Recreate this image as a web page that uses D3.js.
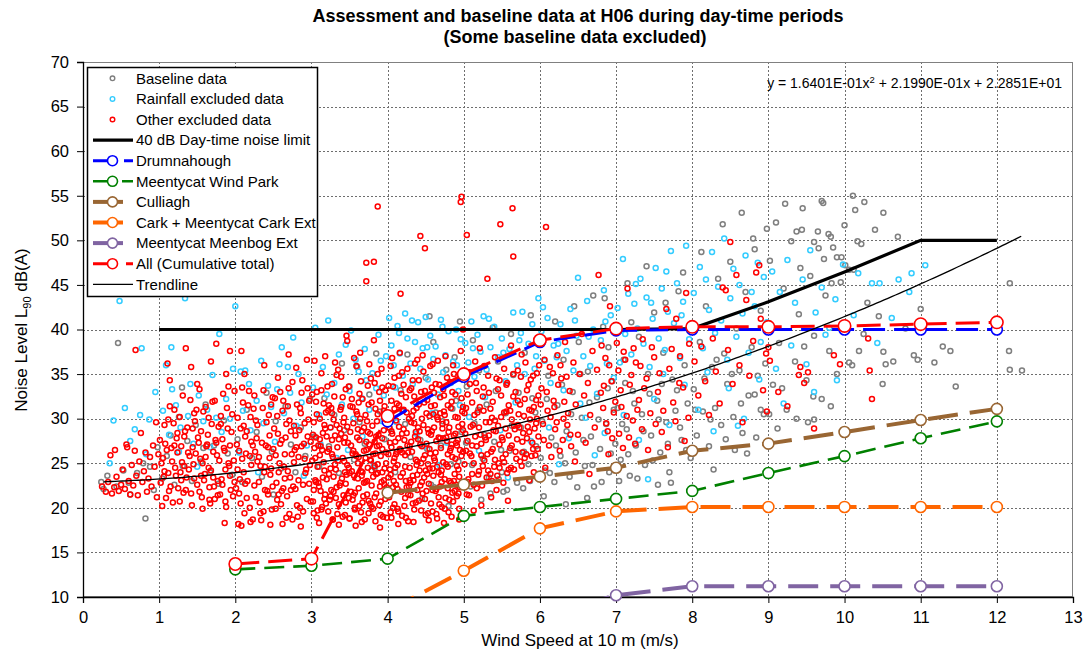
<!DOCTYPE html>
<html>
<head>
<meta charset="utf-8">
<script src="https://cdn.jsdelivr.net/npm/d3@7"></script>
<style>
  body { margin: 0; background: #fff; }
  svg { display: block; }
  text { font-family: "Liberation Sans", Arial, sans-serif; fill: #000; }
</style>
</head>
<body>
<svg id="chart" width="1084" height="659"></svg>
<script>
// ---- Data -------------------------------------------------------------

// Wind speed steps for the predicted turbine noise curves (m/s)
const speedSteps = [2, 3, 4, 5, 6, 7, 8, 9, 10, 11, 12];

// Predicted noise levels, dB(A) (null = no value at that speed)
const drumnahough = [null, null, 29.7, 34.7, 38.6, 39.9, 40.0, 40.0, 40.0, 40.0, 40.0];
const meentycatWindPark = [13.1, 13.5, 14.3, 19.1, 20.1, 21.0, 21.9, 23.9, 25.8, 27.8, 29.7];
const culliagh = [null, null, 21.7, 22.6, 23.5, 24.5, 26.4, 27.2, 28.5, 29.85, 31.1];
const carkMeentycatExt = [null, null, 8.4, 12.95, 17.7, 19.6, 20.1, 20.1, 20.1, 20.1, 20.1];
const meentycatMeenbogExt = [null, null, null, null, 7.7, 10.2, 11.2, 11.2, 11.2, 11.2, 11.2];
const cumulativeTotal = [13.7, 14.3, 30.3, 35.0, 38.8, 40.1, 40.3, 40.3, 40.4, 40.6, 40.8];

// Day-time noise limit
const limitSpeeds = [1, 2, 3, 4, 5, 6, 7, 8, 9, 10, 11, 12];
const limitLevels = [40, 40, 40, 40, 40, 40, 40, 40.1, 43.1, 46.45, 50, 50];

// Polynomial trendline of the baseline data: a2*x^2 + a1*x + a0
const trendCoefficients = [0.16401, 0.21990, 22.851];
const trendSpeedRange = [0.27, 12.35];

// Axis ticks
const xTicks = [0, 1, 2, 3, 4, 5, 6, 7, 8, 9, 10, 11, 12, 13];
const yTicks = [10, 15, 20, 25, 30, 35, 40, 45, 50, 55, 60, 65, 70];

// Measured points [wind speed, L90]
const baselinePoints = [
[0.24,22.9],[0.27,22.1],[0.32,23.6],[0.44,22.4],[0.46,38.5],[0.53,24.2],[0.6,22.8],[0.62,21.5],[0.71,23.9],[0.79,25.0],[0.82,18.8],[0.88,24.6],[0.93,22.0],[0.98,26.8],
[1.04,23.3],[1.1,25.8],[1.15,28.1],[1.2,22.6],[1.26,30.2],[1.31,24.7],[1.37,27.5],[1.43,23.0],[1.48,29.3],[1.55,25.2],[1.61,31.6],[1.67,24.0],[1.72,27.0],[1.78,22.7],[1.85,29.8],[1.9,26.1],[1.96,23.7],[1.3,33.5],[1.58,26.7],
[2.03,27.7],[2.09,22.9],[2.15,31.0],[2.22,25.6],[2.28,28.5],[2.35,23.5],[2.41,32.9],[2.48,26.3],[2.53,29.7],[2.6,24.4],[2.66,31.4],[2.73,27.1],[2.79,24.0],[2.86,29.0],[2.92,25.8],[2.98,32.2],[2.5,21.5],
[3.04,28.0],[3.1,24.6],[3.17,32.3],[3.23,26.9],[3.3,30.4],[3.36,23.9],[3.43,28.7],[3.5,33.6],[3.56,25.4],[3.63,29.6],[3.7,27.2],[3.76,32.7],[3.83,24.5],[3.9,30.8],[3.96,27.7],[3.6,35.8],[3.4,36.2],[3.85,37.3],
[4.03,28.9],[4.1,24.0],[4.17,33.2],[4.23,29.4],[4.3,25.7],[4.37,31.8],[4.43,27.6],[4.5,34.6],[4.57,22.6],[4.63,30.7],[4.7,27.0],[4.77,35.5],[4.83,24.9],[4.9,32.0],[4.97,28.5],[4.26,37.2],[4.6,38.6],[4.88,36.9],[4.45,21.0],[4.8,20.2],[4.55,41.5],[4.95,40.9],
[5.04,33.6],[5.09,22.4],[5.14,29.5],[5.2,35.4],[5.25,25.5],[5.3,31.6],[5.35,21.6],[5.4,27.4],[5.45,36.4],[5.5,24.0],[5.55,30.6],[5.6,26.4],[5.65,34.9],[5.7,22.8],[5.75,29.0],[5.8,37.4],[5.85,24.9],[5.9,32.3],[5.95,26.9],[5.12,38.8],[5.38,40.2],[5.62,39.5],[5.88,41.6],[5.23,20.9],[5.52,21.8],[5.78,22.2],[5.46,23.2],[5.98,23.7],
[6.03,29.7],[6.07,24.2],[6.11,34.8],[6.15,27.9],[6.19,22.9],[6.23,31.5],[6.27,25.8],[6.31,36.6],[6.35,28.6],[6.39,23.5],[6.43,33.0],[6.47,26.2],[6.51,38.6],[6.55,30.1],[6.59,24.7],[6.63,35.3],[6.67,28.0],[6.71,22.4],[6.75,32.4],[6.79,26.6],[6.83,40.3],[6.87,29.4],[6.91,24.0],[6.95,34.2],[6.99,27.2],[6.2,40.9],[6.45,42.6],[6.7,43.8],[6.9,38.0],[6.05,21.3],[6.34,20.4],[6.62,21.1],[6.85,43.5],
[7.02,31.2],[7.06,25.4],[7.1,36.6],[7.14,28.8],[7.18,23.6],[7.22,33.1],[7.26,27.0],[7.3,39.2],[7.34,30.5],[7.38,24.8],[7.42,35.0],[7.46,28.1],[7.5,41.9],[7.54,32.0],[7.58,26.2],[7.62,37.4],[7.66,29.6],[7.7,24.0],[7.74,34.4],[7.78,30.9],[7.82,44.3],[7.86,27.6],[7.9,36.0],[7.94,31.7],[7.98,25.6],[7.15,45.2],[7.4,47.1],[7.65,43.0],[7.88,46.4],[7.55,22.6],[7.96,39.9],[7.2,40.8],
[8.02,33.3],[8.06,28.1],[8.1,38.6],[8.14,30.8],[8.18,42.6],[8.22,26.9],[8.26,35.8],[8.3,31.2],[8.34,45.7],[8.38,29.3],[8.42,37.3],[8.46,33.9],[8.5,47.6],[8.54,30.2],[8.58,40.1],[8.62,35.4],[8.66,28.4],[8.7,44.2],[8.74,32.6],[8.78,38.0],[8.82,49.0],[8.86,34.8],[8.9,42.1],[8.94,30.5],[8.98,51.3],[8.12,48.7],[8.4,51.8],[8.65,53.1],[8.8,50.2],[8.28,24.3],[8.56,26.5],[8.84,27.9],
[9.02,47.7],[9.06,33.8],[9.1,52.0],[9.14,38.5],[9.2,44.6],[9.24,31.0],[9.3,49.9],[9.35,36.4],[9.4,41.7],[9.45,53.6],[9.5,34.3],[9.55,46.0],[9.6,39.3],[9.65,51.0],[9.7,32.2],[9.75,43.8],[9.8,37.6],[9.85,49.2],[9.9,35.0],[9.95,45.3],[9.12,28.9],[9.52,29.6],[9.82,31.4],[9.22,54.1],[9.7,54.4],
[10.11,55.0],[10.26,54.3],[10.51,53.1],[10.4,51.2],[10.7,50.4],[10.17,49.9],[10.22,49.6],[9.96,48.1],[10.01,47.2],[10.06,46.7],[10.12,46.7],[12.17,45.2],[10.19,37.6],[10.51,37.5],[10.06,36.3],[10.1,36.0],[10.54,36.1],[10.64,36.4],[10.91,37.1],[10.96,36.6],[11.18,36.3],[11.29,38.1],[11.39,37.6],[10.5,33.9],[11.46,33.6],[12.16,37.6],[12.17,35.5],[12.33,35.4],[10.0,51.7],
[9.18,33.4],[8.82,32.7],[8.9,31.0],[9.01,30.5],[9.59,32.5],[9.37,30.0],[9.6,29.9],[9.47,38.1],[9.42,46.9],[9.9,48.1],[9.73,47.9],[9.83,45.2],[9.37,51.0],[9.44,51.2],[9.6,49.8],[9.66,49.1],[9.79,50.7],[9.82,50.4],[9.72,54.2],[10.14,53.4],[10.3,43.0],[10.45,41.5],[10.8,40.1],[11.0,42.3],[10.25,39.5],
[4.52,26.6],[4.61,22.3],[4.72,29.7],[4.85,31.1],[4.93,25.2],[5.03,27.3],[5.11,24.8],[5.19,31.0],[5.27,28.2],[5.33,23.4],[5.42,33.1],[5.49,26.5],[5.57,22.0],[5.63,29.2],[5.72,32.9],[5.79,26.3],[5.87,23.0],[5.94,30.7],[6.01,25.6],[6.09,32.2],[6.13,23.9],[6.21,27.0],[6.29,33.8],[6.33,25.0],[6.41,30.5],[6.49,22.3],[6.53,35.0],[6.57,27.6],[6.65,31.8],[6.69,24.8],[6.77,29.9],[6.81,22.9],[6.89,33.4],[6.93,26.1],[6.97,31.0],[7.04,23.0],[7.08,29.4],[7.12,34.0],[7.16,26.0],[7.24,31.7],[7.28,23.3],[7.36,28.6],[7.44,32.8],[7.48,25.3],[7.56,29.9],[7.6,33.9],[7.68,27.2],[7.72,22.8],[7.8,33.2],[7.84,29.0],[7.92,26.5],[8.04,31.0],[8.16,34.5],[8.24,29.9],[8.32,36.6],[8.44,27.7],[8.52,35.0],[8.64,31.7],[8.72,26.1],[8.96,36.2]
];

const rainfallPoints = [
[0.48,43.2],[0.4,29.8],[0.62,27.5],[0.75,30.4],[0.77,37.9],[0.87,29.9],[0.55,31.2],[0.95,33.0],[0.35,25.0],[0.68,28.8],[0.83,26.0],
[1.16,38.0],[1.17,33.3],[1.34,43.5],[1.79,39.5],[1.05,30.9],[1.13,28.2],[1.22,31.5],[1.28,29.0],[1.38,30.3],[1.45,27.2],[1.52,32.6],[1.58,29.7],[1.63,31.0],[1.7,34.9],[1.75,30.1],[1.82,28.5],[1.88,32.2],[1.93,30.0],[1.26,26.3],[1.41,33.9],[1.67,26.8],[1.97,35.6],[1.5,24.6],[1.09,36.0],
[2.0,42.6],[2.07,35.3],[2.13,35.4],[2.34,36.5],[2.43,33.7],[2.58,36.1],[2.61,38.0],[2.69,35.8],[2.76,39.1],[2.1,30.9],[2.2,28.7],[2.28,32.0],[2.37,29.5],[2.47,31.3],[2.52,27.4],[2.64,30.6],[2.72,32.9],[2.8,29.2],[2.87,31.8],[2.94,27.0],[2.05,26.2],[2.3,24.0],[2.55,33.3],[2.83,35.0],[2.9,23.6],[2.18,33.9],
[3.02,33.5],[3.05,40.2],[3.36,37.2],[3.58,36.6],[3.72,34.3],[3.91,36.5],[3.1,30.4],[3.15,35.8],[3.2,32.7],[3.25,29.0],[3.3,34.0],[3.4,31.6],[3.45,38.3],[3.5,33.1],[3.55,30.0],[3.62,35.3],[3.66,32.3],[3.7,37.8],[3.76,31.0],[3.8,35.1],[3.85,33.4],[3.88,39.4],[3.95,32.6],[3.98,37.0],[3.12,27.1],[3.33,25.6],[3.48,26.5],[3.67,28.0],[3.82,24.8],[3.93,29.7],[3.22,41.0],[3.52,39.9],
[4.02,41.3],[4.05,38.2],[4.08,36.0],[4.1,33.5],[4.13,40.4],[4.16,37.3],[4.2,34.8],[4.23,41.8],[4.26,39.0],[4.3,36.2],[4.33,33.9],[4.36,38.6],[4.4,40.8],[4.43,35.6],[4.46,37.9],[4.5,41.4],[4.53,34.4],[4.56,39.3],[4.6,36.7],[4.63,38.1],[4.66,32.7],[4.7,41.1],[4.73,35.2],[4.76,37.1],[4.8,39.8],[4.83,34.0],[4.86,36.4],[4.9,40.0],[4.93,33.1],[4.96,38.9],[4.12,29.6],[4.38,28.3],[4.58,30.6],[4.78,27.3],[4.95,31.5],[4.18,31.0],[4.48,26.9],[4.68,24.8],
[5.02,38.5],[5.06,36.3],[5.1,40.9],[5.14,34.7],[5.18,39.4],[5.22,37.5],[5.26,41.5],[5.3,35.5],[5.35,38.0],[5.4,40.3],[5.45,36.9],[5.5,39.0],[5.55,34.2],[5.6,37.8],[5.65,41.9],[5.7,36.0],[5.75,39.6],[5.8,35.0],[5.85,38.4],[5.9,40.6],[5.95,37.0],[5.98,43.5],[5.07,30.2],[5.28,32.4],[5.48,28.7],[5.68,31.8],[5.88,27.5],[5.2,26.4],[5.58,23.4],[5.77,42.0],
[6.02,39.8],[6.06,36.5],[6.1,41.3],[6.14,34.0],[6.18,38.2],[6.22,36.9],[6.27,40.6],[6.31,33.2],[6.35,37.6],[6.4,42.3],[6.44,35.4],[6.48,39.3],[6.53,31.7],[6.57,37.0],[6.62,43.2],[6.66,35.9],[6.7,40.0],[6.75,32.8],[6.8,38.8],[6.84,44.4],[6.88,36.2],[6.93,41.6],[6.97,34.6],[6.12,29.0],[6.38,27.8],[6.6,30.1],[6.85,28.4],[6.25,24.9],[6.72,25.9],[6.5,45.8],
[7.02,42.4],[7.05,36.3],[7.09,47.9],[7.12,39.5],[7.16,44.0],[7.2,37.2],[7.24,42.9],[7.28,40.1],[7.32,45.7],[7.36,38.4],[7.4,43.6],[7.44,35.8],[7.48,41.2],[7.52,46.9],[7.56,39.0],[7.6,44.6],[7.64,37.7],[7.68,42.0],[7.72,48.8],[7.76,40.7],[7.8,45.2],[7.84,36.8],[7.88,43.1],[7.92,49.4],[7.96,38.9],[7.1,30.4],[7.3,27.6],[7.5,32.2],[7.7,29.3],[7.9,33.8],[7.42,23.2],[7.62,35.0],
[8.02,44.1],[8.06,40.3],[8.1,47.0],[8.14,37.9],[8.18,45.6],[8.22,42.2],[8.26,48.7],[8.3,39.6],[8.34,44.8],[8.38,41.0],[8.42,50.2],[8.46,36.6],[8.5,43.5],[8.54,46.8],[8.58,39.2],[8.62,45.0],[8.66,41.8],[8.7,48.3],[8.74,37.4],[8.78,44.2],[8.82,42.6],[8.86,47.5],[8.9,38.6],[8.94,45.9],[8.98,40.8],[8.08,31.0],[8.28,28.6],[8.48,33.4],[8.68,30.0],[8.88,34.4],[8.2,35.2],[8.6,29.2],
[9.05,46.5],[9.15,44.2],[9.25,47.8],[9.35,43.0],[9.45,45.6],[9.55,48.9],[9.62,41.9],[9.7,44.7],[9.8,40.2],[9.88,43.4],[9.98,47.3],
[10.18,46.3],[10.12,41.6],[10.36,45.2],[10.46,45.2],[10.71,45.6],[10.88,46.3],[11.06,47.2],[10.85,44.2],[10.62,41.3],[10.43,38.5],[9.1,35.6],[9.3,38.2],[9.5,36.1],[9.75,39.4],[9.9,34.3],[9.2,31.7],[9.6,33.0],
[4.15,39.6],[4.32,41.0],[4.52,38.0],[4.72,40.3],[4.91,36.0],[5.12,37.9],[5.33,41.2],[5.52,37.4],[5.73,38.8],[5.93,35.6],[6.04,42.5],[6.24,38.4],[6.46,41.0],[6.64,39.2],[6.86,40.9],[7.06,39.9],[7.26,45.1],[7.46,43.0],[7.66,46.5],[7.86,41.6]
];

const otherExcludedPoints = [
[0.25,22.4],[0.3,21.8],[0.33,22.9],[0.38,21.6],[0.41,22.3],[0.44,23.5],[0.47,21.9],[0.5,22.6],[0.52,24.3],[0.55,22.1],[0.57,27.1],[0.6,23.0],[0.62,21.5],[0.64,24.8],[0.66,22.5],[0.68,26.4],[0.7,23.6],[0.72,21.4],[0.74,25.2],[0.76,28.4],[0.78,22.9],[0.8,24.1],[0.82,26.2],[0.84,21.8],[0.86,23.3],[0.88,25.7],[0.9,22.4],[0.92,27.0],[0.94,24.6],[0.96,29.6],[0.97,21.2],[0.99,26.0],[0.69,37.7],[0.58,26.8],[0.42,26.5],[0.36,25.9],
[1.02,22.8],[1.05,25.6],[1.07,29.3],[1.09,21.1],[1.12,23.9],[1.14,31.4],[1.16,26.7],[1.18,20.6],[1.21,24.5],[1.23,27.8],[1.25,22.2],[1.27,30.2],[1.3,25.1],[1.32,21.7],[1.34,28.6],[1.36,23.4],[1.38,26.2],[1.41,32.1],[1.43,20.3],[1.45,24.9],[1.47,29.7],[1.5,22.6],[1.52,27.3],[1.54,25.5],[1.56,21.2],[1.58,30.8],[1.6,23.8],[1.62,26.9],[1.64,28.2],[1.66,20.9],[1.68,24.2],[1.7,31.9],[1.72,22.4],[1.74,27.6],[1.76,25.9],[1.78,29.1],[1.8,21.5],[1.82,23.2],[1.84,32.8],[1.86,26.4],[1.88,20.1],[1.9,28.9],[1.92,24.7],[1.94,22.0],[1.96,30.5],[1.98,25.3],[1.11,36.2],[1.35,37.9],[1.75,38.4],[1.93,37.6],[1.2,27.0],[1.44,26.8],[1.57,19.9],[1.73,21.0],[1.91,33.6],[1.28,24.0],[1.49,31.0],[1.83,27.7],[1.06,23.5],[1.66,22.3],[1.53,33.3],[1.86,18.3],
[1.03,25.0],[1.08,27.2],[1.13,21.9],[1.19,29.5],[1.24,26.2],[1.29,23.1],[1.33,28.0],[1.39,24.3],[1.46,30.6],[1.51,27.9],[1.55,23.6],[1.61,25.7],[1.65,30.1],[1.71,26.3],[1.77,23.0],[1.81,29.4],[1.87,24.3],[1.93,27.0],[1.99,22.9],
[1.01,27.6],[1.04,20.2],[1.07,24.1],[1.1,26.5],[1.12,29.9],[1.15,22.4],[1.17,25.2],[1.2,31.0],[1.22,23.6],[1.24,28.4],[1.27,20.7],[1.29,26.9],[1.31,32.6],[1.33,24.7],[1.35,22.0],[1.37,29.0],[1.4,25.8],[1.42,21.6],[1.44,28.9],[1.46,23.3],[1.48,26.1],[1.5,33.9],[1.53,21.8],[1.55,28.6],[1.57,25.0],[1.59,23.1],[1.61,31.3],[1.63,27.1],[1.65,24.5],[1.67,20.5],[1.69,29.4],[1.71,23.4],[1.73,32.0],[1.75,27.3],[1.77,21.4],[1.79,25.3],[1.81,30.3],[1.83,22.6],[1.85,26.7],[1.87,20.7],[1.89,31.2],[1.91,25.0],[1.93,23.6],[1.95,28.5],[1.97,21.3],[1.99,33.1],[1.14,34.3],[1.42,35.8],[1.68,36.4],[1.88,35.0],
[2.03,24.3],[2.05,21.6],[2.07,28.9],[2.1,31.8],[2.12,19.4],[2.14,26.1],[2.16,23.0],[2.18,33.1],[2.21,27.4],[2.23,18.7],[2.25,22.5],[2.27,29.8],[2.29,25.2],[2.32,20.6],[2.34,18.6],[2.36,31.2],[2.38,24.0],[2.4,27.0],[2.42,21.9],[2.44,30.4],[2.46,23.7],[2.48,19.8],[2.5,26.6],[2.52,32.3],[2.54,22.8],[2.56,28.3],[2.58,25.0],[2.6,20.4],[2.62,30.9],[2.64,24.6],[2.66,27.9],[2.68,21.3],[2.7,33.4],[2.72,23.4],[2.74,26.0],[2.75,18.7],[2.77,29.2],[2.79,22.1],[2.81,31.6],[2.83,25.7],[2.85,20.0],[2.88,34.3],[2.9,27.2],[2.92,23.9],[2.94,21.0],[2.96,29.9],[2.98,24.8],[2.09,25.5],[2.2,30.2],[2.31,22.9],[2.43,26.8],[2.55,20.9],[2.67,29.4],[2.78,26.5],[2.89,22.6],[2.97,32.0],[2.13,28.0],[2.37,19.6],[2.59,33.0],[2.71,19.3],[2.84,28.7],[2.08,37.6],[2.47,24.4],[2.63,22.2],[2.86,30.6],[2.26,26.3],[2.04,18.2],[2.08,18.0],
[2.02,27.1],[2.06,23.2],[2.11,29.2],[2.15,21.1],[2.19,25.8],[2.24,31.1],[2.28,27.8],[2.33,24.7],[2.39,22.0],[2.45,28.1],[2.49,32.4],[2.53,25.9],[2.57,21.5],[2.61,27.6],[2.65,23.3],[2.69,31.4],[2.73,28.6],[2.76,22.4],[2.8,26.8],[2.82,19.0],[2.87,32.9],[2.91,25.5],[2.95,28.0],[2.99,20.7],
[2.01,22.2],[2.03,30.1],[2.05,26.4],[2.07,20.5],[2.09,33.5],[2.11,24.0],[2.13,22.7],[2.15,28.6],[2.17,31.5],[2.19,20.0],[2.21,24.8],[2.23,27.0],[2.25,32.6],[2.27,21.2],[2.29,29.3],[2.31,25.7],[2.33,19.4],[2.35,27.3],[2.37,33.2],[2.39,24.6],[2.41,29.6],[2.43,21.5],[2.45,25.6],[2.47,31.6],[2.49,22.4],[2.51,28.9],[2.53,19.9],[2.55,30.3],[2.57,24.0],[2.59,27.2],[2.61,21.9],[2.63,32.0],[2.65,26.0],[2.67,18.9],[2.69,24.1],[2.71,29.8],[2.73,22.0],[2.75,34.1],[2.77,25.1],[2.79,28.1],[2.81,20.3],[2.83,23.1],[2.85,31.2],[2.87,26.9],[2.89,19.6],[2.91,29.5],[2.93,24.3],[2.95,33.4],[2.97,22.7],[2.99,27.4],[2.12,35.0],[2.38,36.0],[2.56,34.6],[2.8,35.7],[2.94,36.6],[2.2,18.4],[2.46,18.1],[2.62,18.2],[2.86,17.9],[2.7,37.2],
[3.01,25.3],[3.02,20.7],[3.03,29.6],[3.05,23.1],[3.06,31.9],[3.07,18.9],[3.09,27.0],[3.1,22.4],[3.11,25.9],[3.13,33.2],[3.14,20.1],[3.15,28.4],[3.17,24.2],[3.18,21.5],[3.19,30.7],[3.21,26.3],[3.22,19.6],[3.23,23.8],[3.25,29.0],[3.26,22.0],[3.27,27.6],[3.28,18.7],[3.3,32.5],[3.31,24.9],[3.32,21.1],[3.34,26.8],[3.35,35.5],[3.36,20.4],[3.37,28.9],[3.39,34.7],[3.4,23.3],[3.41,25.6],[3.43,30.1],[3.44,19.2],[3.45,22.7],[3.46,39.3],[3.47,38.7],[3.48,27.3],[3.49,24.5],[3.5,18.8],[3.51,31.4],[3.52,21.8],[3.54,26.1],[3.55,29.5],[3.56,23.6],[3.57,20.0],[3.59,35.9],[3.6,27.9],[3.61,25.0],[3.62,22.2],[3.63,32.8],[3.65,19.5],[3.66,28.6],[3.67,24.0],[3.68,21.3],[3.7,18.7],[3.71,30.4],[3.72,26.5],[3.73,23.0],[3.74,33.7],[3.75,20.8],[3.76,27.1],[3.78,25.3],[3.79,22.5],[3.8,29.2],[3.81,19.9],[3.82,38.8],[3.83,24.7],[3.84,31.1],[3.85,21.6],[3.86,26.9],[3.87,23.9],[3.88,28.2],[3.89,20.3],[3.9,32.0],[3.91,25.8],[3.92,22.9],[3.93,27.8],[3.94,19.0],[3.95,30.9],[3.96,24.4],[3.97,21.0],[3.98,26.2],[3.99,29.8],
[3.04,26.7],[3.12,21.9],[3.2,28.0],[3.29,23.5],[3.38,31.0],[3.42,21.4],[3.53,24.1],[3.64,30.0],[3.69,22.8],[3.77,20.5],[3.83,27.4],[3.93,33.5],[3.16,31.7],[3.24,20.9],[3.33,29.3],[3.58,26.0],[3.66,18.4],[3.74,28.5],[3.87,35.0],[3.96,22.6],[3.08,19.7],[3.44,27.9],[3.62,31.8],[3.79,24.2],[3.9,17.8],[3.27,33.9],[3.56,36.8],
[3.03,22.0],[3.06,27.9],[3.08,24.6],[3.11,30.0],[3.13,19.8],[3.16,25.1],[3.18,28.9],[3.2,23.2],[3.23,31.5],[3.25,21.3],[3.27,26.0],[3.29,29.9],[3.32,24.3],[3.34,19.3],[3.36,27.7],[3.38,22.8],[3.41,32.4],[3.43,25.2],[3.45,20.6],[3.47,29.1],[3.5,23.9],[3.52,27.0],[3.54,31.3],[3.57,21.7],[3.59,25.8],[3.61,28.8],[3.63,20.2],[3.65,24.1],[3.67,32.2],[3.69,26.4],[3.71,22.9],[3.73,29.7],[3.75,19.4],[3.77,25.4],[3.79,31.8],[3.81,23.5],[3.83,21.2],[3.85,28.0],[3.87,24.9],[3.89,33.0],[3.91,20.7],[3.93,26.6],[3.95,23.1],[3.97,30.2],[3.99,18.9],
[3.02,28.2],[3.07,33.0],[3.12,26.9],[3.17,21.0],[3.22,30.9],[3.28,25.7],[3.33,22.3],[3.39,28.3],[3.44,24.0],[3.49,33.6],[3.55,21.4],[3.6,30.5],[3.66,23.6],[3.72,27.4],[3.78,34.5],[3.84,26.1],[3.9,22.4],[3.96,31.4],[3.28,18.7],[3.5,18.8],[3.72,45.4],[3.72,47.5],[3.82,47.6],[3.87,53.8],
[3.01,32.7],[3.03,19.4],[3.05,25.6],[3.07,30.5],[3.09,22.8],[3.11,27.7],[3.13,35.1],[3.15,23.4],[3.17,29.3],[3.19,20.5],[3.21,33.6],[3.23,26.6],[3.25,24.4],[3.27,30.6],[3.29,21.8],[3.31,28.1],[3.33,34.9],[3.35,25.3],[3.37,22.5],[3.39,31.3],[3.41,19.0],[3.43,27.3],[3.45,33.3],[3.47,24.8],[3.49,21.1],[3.51,28.5],[3.53,32.2],[3.55,26.4],[3.57,19.8],[3.59,30.8],[3.61,23.3],[3.63,27.6],[3.65,34.2],[3.67,20.6],[3.69,29.0],[3.71,25.6],[3.73,21.5],[3.75,31.6],[3.77,28.3],[3.79,20.1],[3.81,26.0],[3.83,34.0],[3.85,23.8],[3.87,30.5],[3.89,27.0],[3.91,19.2],[3.93,24.0],[3.95,28.7],[3.97,33.2],[3.99,22.3],[3.04,36.5],[3.18,37.0],[3.31,36.3],[3.64,37.4],[3.76,36.1],[3.92,35.6],[3.1,18.3],[3.36,18.1],[3.58,18.0],[3.84,18.5],[3.06,22.9],[3.14,26.5],[3.26,31.2],[3.46,23.7],[3.62,25.7],[3.74,24.5],[3.86,29.7],[3.98,25.0],[3.42,29.6],[3.54,20.9],
[4.01,26.0],[4.02,21.2],[4.03,30.5],[4.04,23.7],[4.05,18.9],[4.06,28.3],[4.07,33.6],[4.08,25.2],[4.09,20.4],[4.1,27.4],[4.11,22.6],[4.12,31.7],[4.13,24.8],[4.14,19.6],[4.15,29.1],[4.16,26.6],[4.17,44.0],[4.18,21.8],[4.19,35.2],[4.2,23.9],[4.21,28.8],[4.22,20.2],[4.23,25.9],[4.24,32.4],[4.25,22.3],[4.26,27.0],[4.27,18.5],[4.28,30.0],[4.29,24.5],[4.3,21.4],[4.31,29.6],[4.32,26.3],[4.33,34.3],[4.34,23.1],[4.35,19.8],[4.36,28.0],[4.37,25.4],[4.38,31.2],[4.39,22.0],[4.4,27.7],[4.41,20.8],[4.42,24.2],[4.43,50.5],[4.44,33.0],[4.45,26.9],[4.46,21.6],[4.47,29.3],[4.48,23.4],[4.49,49.1],[4.5,19.2],[4.51,27.2],[4.52,32.1],[4.53,24.9],[4.54,22.7],[4.55,30.3],[4.56,26.1],[4.57,20.5],[4.58,28.6],[4.59,36.1],[4.6,23.6],[4.61,25.6],[4.62,31.5],[4.63,21.9],[4.64,27.5],[4.65,18.8],[4.66,29.9],[4.67,24.0],[4.68,33.8],[4.69,22.4],[4.7,26.7],[4.71,20.1],[4.72,28.9],[4.73,25.1],[4.74,30.8],[4.75,23.2],[4.76,21.1],[4.77,27.9],[4.78,34.6],[4.79,24.6],[4.8,19.5],[4.81,29.0],[4.82,26.4],[4.83,22.8],[4.84,31.9],[4.85,25.7],[4.86,20.7],[4.87,28.1],[4.88,23.8],[4.89,32.7],[4.9,27.3],[4.91,21.3],[4.92,30.1],[4.93,24.3],[4.94,19.9],[4.95,26.5],[4.96,54.3],[4.97,54.9],[4.98,29.4],[4.99,40.0],
[4.04,35.9],[4.14,27.8],[4.24,23.0],[4.34,30.9],[4.44,25.0],[4.54,28.4],[4.64,22.1],[4.74,32.6],[4.84,27.1],[4.94,23.5],[4.09,31.1],[4.29,33.2],[4.49,21.0],[4.69,30.6],[4.89,25.5],[4.19,26.2],[4.39,36.6],[4.59,24.4],[4.79,22.2],[4.99,28.7],
[4.01,23.4],[4.03,27.3],[4.05,32.0],[4.07,20.0],[4.09,25.6],[4.11,29.8],[4.13,22.1],[4.15,34.8],[4.17,26.5],[4.19,19.1],[4.21,31.0],[4.23,24.6],[4.25,28.4],[4.27,21.5],[4.29,26.9],[4.31,33.4],[4.33,23.6],[4.35,29.5],[4.37,20.6],[4.39,25.2],[4.41,31.6],[4.43,27.1],[4.45,22.9],[4.47,35.3],[4.49,25.9],[4.51,30.6],[4.53,19.4],[4.55,24.4],[4.57,28.2],[4.59,22.0],[4.61,32.9],[4.63,26.2],[4.65,30.2],[4.67,21.2],[4.69,27.8],[4.71,24.2],[4.73,33.3],[4.75,19.9],[4.77,29.6],[4.79,26.0],[4.81,23.0],[4.83,31.2],[4.85,21.7],[4.87,35.0],[4.89,28.3],[4.91,24.7],[4.93,29.1],[4.95,22.3],[4.97,32.3],[4.99,26.3],
[4.02,29.0],[4.08,23.0],[4.12,26.3],[4.18,32.8],[4.22,27.6],[4.28,22.4],[4.32,30.3],[4.38,24.8],[4.42,28.6],[4.48,31.8],[4.52,23.8],[4.58,33.5],[4.62,25.3],[4.68,20.4],[4.72,29.4],[4.78,27.5],[4.82,34.1],[4.88,21.9],[4.92,27.6],[4.98,30.8],
[4.01,33.7],[4.03,24.3],[4.05,28.6],[4.07,22.3],[4.09,34.6],[4.11,26.0],[4.13,19.9],[4.15,31.5],[4.17,23.5],[4.19,28.3],[4.21,33.8],[4.23,21.1],[4.25,30.7],[4.27,26.2],[4.29,23.1],[4.31,27.4],[4.33,20.5],[4.35,32.5],[4.37,28.5],[4.39,23.7],[4.41,34.3],[4.43,22.5],[4.45,30.0],[4.47,25.5],[4.49,33.1],[4.51,21.9],[4.53,28.8],[4.55,26.6],[4.57,31.4],[4.59,19.6],[4.61,29.0],[4.63,33.9],[4.65,24.6],[4.67,27.9],[4.69,32.4],[4.71,22.9],[4.73,27.8],[4.75,30.4],[4.77,24.9],[4.79,31.5],[4.81,20.9],[4.83,26.7],[4.85,33.0],[4.87,23.0],[4.89,30.2],[4.91,27.0],[4.93,21.6],[4.95,34.5],[4.97,25.8],[4.99,31.3],[4.06,36.8],[4.16,37.4],[4.26,35.6],[4.36,36.2],[4.46,37.1],[4.56,35.9],[4.66,36.5],[4.76,37.0],[4.86,36.0],[4.96,37.6],[4.04,19.5],[4.14,18.2],[4.24,18.9],[4.34,18.4],[4.44,19.7],[4.54,18.6],[4.64,19.3],[4.74,18.3],[4.84,19.0],[4.94,18.7],[4.1,24.5],[4.2,30.9],[4.3,22.8],[4.4,29.0],[4.5,24.2],[4.6,30.5],[4.7,23.7],[4.8,28.5],[4.9,22.6],[4.05,26.8],
[5.01,24.9],[5.03,31.2],[5.04,50.6],[5.05,27.5],[5.07,21.4],[5.08,33.9],[5.1,25.8],[5.12,29.3],[5.13,22.6],[5.15,36.4],[5.17,26.9],[5.18,30.7],[5.2,24.1],[5.22,28.2],[5.23,20.3],[5.25,32.5],[5.27,25.3],[5.28,27.9],[5.3,23.4],[5.31,45.7],[5.32,34.8],[5.34,29.6],[5.36,26.3],[5.38,31.9],[5.4,24.6],[5.42,28.6],[5.43,22.0],[5.45,33.3],[5.47,27.1],[5.48,51.8],[5.49,30.2],[5.51,25.6],[5.53,35.6],[5.55,28.9],[5.57,23.9],[5.59,31.5],[5.61,26.7],[5.63,29.9],[5.64,53.6],[5.65,48.2],[5.66,24.3],[5.68,33.0],[5.7,27.7],[5.72,30.5],[5.74,25.2],[5.76,37.2],[5.78,28.4],[5.8,32.2],[5.82,26.0],[5.84,29.1],[5.86,23.1],[5.88,34.4],[5.9,27.3],[5.92,31.3],[5.94,25.9],[5.96,30.0],[5.98,28.0],[5.06,23.2],[5.16,34.0],[5.26,30.9],[5.36,21.2],[5.46,25.0],[5.56,33.8],[5.66,29.2],[5.76,24.7],[5.86,31.0],[5.96,35.1],[5.11,27.0],[5.33,28.1],[5.52,22.8],[5.71,35.4],[5.91,26.6],[5.21,37.9],[5.41,36.9],[5.62,38.2],
[5.02,28.3],[5.05,32.7],[5.08,26.1],[5.11,23.8],[5.14,30.4],[5.17,22.2],[5.2,29.0],[5.23,25.9],[5.26,33.5],[5.29,27.6],[5.32,24.2],[5.35,31.1],[5.38,26.6],[5.41,29.8],[5.44,23.6],[5.47,34.3],[5.5,27.9],[5.53,25.1],[5.56,30.8],[5.59,28.1],[5.62,24.5],[5.65,32.5],[5.68,26.3],[5.71,29.3],[5.74,31.6],[5.77,27.4],[5.8,25.6],[5.83,33.2],[5.86,28.5],[5.89,30.9],[5.92,24.0],[5.95,29.5],[5.98,32.6],[5.04,21.5],[5.13,19.7],[5.24,22.5],[5.37,23.0],[5.58,20.8],
[5.01,30.6],[5.03,26.4],[5.05,22.9],[5.07,35.2],[5.09,29.1],[5.11,31.8],[5.13,25.0],[5.15,28.0],[5.17,33.1],[5.19,23.7],[5.21,31.3],[5.23,27.2],[5.25,24.7],[5.27,35.9],[5.29,29.6],[5.31,26.0],[5.33,32.9],[5.35,23.8],[5.37,30.1],[5.39,28.7],[5.41,25.4],[5.43,34.5],[5.45,29.2],[5.47,24.5],[5.49,32.6],[5.51,27.6],[5.53,30.7],[5.55,26.0],[5.57,34.0],[5.59,24.3],[5.61,30.9],[5.63,27.0],[5.65,35.0],[5.67,28.8],[5.69,25.5],[5.71,32.0],[5.73,29.0],[5.75,34.7],[5.77,26.2],[5.79,30.3],[5.81,36.3],[5.83,27.8],[5.85,33.8],[5.87,29.9],[5.89,25.8],[5.91,34.8],[5.93,28.9],[5.95,32.1],[5.97,26.6],[5.99,36.0],
[6.02,33.4],[6.05,27.6],[6.08,51.5],[6.1,30.9],[6.13,35.8],[6.15,25.7],[6.18,32.0],[6.2,28.8],[6.23,37.1],[6.26,26.4],[6.28,34.5],[6.31,30.0],[6.33,38.6],[6.36,29.3],[6.39,33.1],[6.41,26.9],[6.44,36.3],[6.47,31.6],[6.5,28.2],[6.52,35.0],[6.55,39.5],[6.58,32.6],[6.6,27.3],[6.63,34.0],[6.66,30.4],[6.69,37.6],[6.72,29.0],[6.75,35.5],[6.77,46.1],[6.8,32.9],[6.83,31.2],[6.86,36.8],[6.89,28.6],[6.92,42.6],[6.94,34.2],[6.97,30.7],[6.07,24.5],[6.46,25.2],[6.65,23.8],[6.9,26.0],
[6.01,31.6],[6.04,29.4],[6.06,36.6],[6.09,33.0],[6.12,27.0],[6.14,30.2],[6.17,35.1],[6.19,31.3],[6.22,29.6],[6.24,33.8],[6.27,36.0],[6.3,27.6],[6.32,31.9],[6.35,34.7],[6.37,30.6],[6.4,28.2],
[6.81,38.2],[6.84,33.7],[6.87,29.5],[6.91,36.0],[6.95,27.8],[6.99,31.9],[7.01,38.5],[7.04,28.3],[7.06,33.2],[7.09,26.7],[7.12,36.6],[7.14,30.3],[7.17,27.9],[7.2,34.9],[7.23,37.9],[7.25,27.2],[7.28,31.0],[7.32,35.9],[7.34,28.8],[7.37,33.4],[7.42,26.5],[7.47,38.0],[7.52,29.4],[7.57,35.1],[7.62,30.9],[7.68,26.8],[7.73,37.8],[7.78,29.7],[7.83,34.0],[7.9,27.5],[7.96,38.4],
[7.03,35.4],[7.07,31.3],[7.1,37.5],[7.15,44.6],[7.18,33.8],[7.22,29.8],[7.26,36.3],[7.3,32.1],[7.35,38.9],[7.4,34.5],[7.45,30.6],[7.5,36.9],[7.55,33.0],[7.6,28.5],[7.66,42.3],[7.7,35.6],[7.75,31.8],[7.79,41.2],[7.84,37.0],[7.88,33.5],[7.92,44.1],[7.95,30.1],
[8.03,36.4],[8.08,32.6],[8.12,38.1],[8.17,34.2],[8.22,30.4],[8.27,39.0],[8.31,35.3],[8.36,31.7],[8.4,44.7],[8.44,44.4],[8.47,37.7],[8.5,49.8],[8.53,33.9],[8.58,46.1],[8.62,36.0],[8.66,29.6],[8.71,43.3],[8.75,34.8],[8.8,38.7],[8.84,46.4],[8.88,47.2],[8.9,41.2],[8.93,33.2],[8.97,37.3],[8.98,30.8],
[9.0,38.0],[9.02,36.5],[9.13,33.0],[9.4,34.9],[9.42,35.8],[9.47,34.0],[9.52,35.2],[9.86,37.1],[9.94,36.1],[10.31,39.0],[10.33,35.4],[10.36,32.2],[9.25,31.4],[9.6,28.9]
];

// ---- Scales -------------------------------------------------------------

const plot = { left: 83, right: 1073, top: 62, bottom: 597 };

const x = d3.scaleLinear().domain([0, 13]).range([plot.left, plot.right]);
const y = d3.scaleLinear().domain([10, 70]).range([plot.bottom, plot.top]);

const svg = d3.select("#chart");

svg.append("defs").append("clipPath").attr("id", "plotClip")
  .append("rect")
  .attr("x", plot.left).attr("y", plot.top)
  .attr("width", plot.right - plot.left).attr("height", plot.bottom - plot.top);

// ---- Titles -------------------------------------------------------------

const titleG = svg.append("g").attr("font-weight", "bold").attr("text-anchor", "middle");
titleG.append("text").attr("x", 578).attr("y", 22).attr("font-size", 18)
  .text("Assessment and baseline data at H06 during day-time periods");
titleG.append("text").attr("x", 575).attr("y", 43).attr("font-size", 18)
  .text("(Some baseline data excluded)");

// ---- Grid ---------------------------------------------------------------

const grid = svg.append("g").attr("stroke", "#6e6e6e").attr("stroke-width", 1)
  .attr("stroke-dasharray", "2,2").attr("shape-rendering", "crispEdges");
grid.selectAll("line.vx").data(xTicks.filter(t => t > 0 && t < 13)).join("line")
  .attr("x1", d => Math.round(x(d)) + 0.5).attr("x2", d => Math.round(x(d)) + 0.5)
  .attr("y1", plot.top).attr("y2", plot.bottom);
grid.selectAll("line.hy").data(yTicks.filter(t => t > 10 && t < 70)).join("line")
  .attr("y1", d => Math.round(y(d)) + 0.5).attr("y2", d => Math.round(y(d)) + 0.5)
  .attr("x1", plot.left).attr("x2", plot.right);

// Plot frame
svg.append("rect")
  .attr("x", plot.left + 0.5).attr("y", plot.top + 0.5)
  .attr("width", plot.right - plot.left - 1).attr("height", plot.bottom - plot.top - 1)
  .attr("fill", "none").attr("stroke", "#808080").attr("stroke-width", 1);

// ---- Axes ---------------------------------------------------------------

const xAxis = svg.append("g").attr("transform", `translate(0,${plot.bottom})`)
  .call(d3.axisBottom(x).tickValues(xTicks).tickSize(6).tickPadding(8).tickFormat(d3.format("d")));
const yAxis = svg.append("g").attr("transform", `translate(${plot.left},0)`)
  .call(d3.axisLeft(y).tickValues(yTicks).tickSize(6).tickPadding(8).tickFormat(d3.format("d")));
[xAxis, yAxis].forEach(g => {
  g.select(".domain").attr("stroke", "#000").attr("stroke-width", 1.3);
  g.selectAll(".tick line").attr("stroke", "#000");
  g.selectAll(".tick text").attr("font-size", 16.5).attr("fill", "#000")
    .attr("font-family", "\"Liberation Sans\", Arial, sans-serif");
});

svg.append("text").attr("x", 580).attr("y", 646).attr("text-anchor", "middle")
  .attr("font-size", 17).text("Wind Speed at 10 m (m/s)");

const yLabel = svg.append("text")
  .attr("transform", "translate(27,330) rotate(-90)")
  .attr("text-anchor", "middle").attr("font-size", 17);
yLabel.append("tspan").text("Noise Level L");
yLabel.append("tspan").attr("font-size", 11).attr("dy", 4).text("90");
yLabel.append("tspan").attr("dy", -4).text(" dB(A)");

// ---- Scatter data -------------------------------------------------------

function drawDots(points, color) {
  svg.append("g").selectAll("circle").data(points).join("circle")
    .attr("cx", d => x(d[0])).attr("cy", d => y(d[1])).attr("r", 2.5)
    .attr("fill", "none").attr("stroke", color).attr("stroke-width", 1.5);
}
drawDots(baselinePoints, "#7f7f7f");
drawDots(rainfallPoints, "#33ccff");
drawDots(otherExcludedPoints, "#ff0000");

// ---- Day-time noise limit ----------------------------------------------

const limitLine = d3.line().x((d, i) => x(limitSpeeds[i])).y(d => y(d));
svg.append("path").attr("d", limitLine(limitLevels))
  .attr("fill", "none").attr("stroke", "#000").attr("stroke-width", 3.2)
  .attr("clip-path", "url(#plotClip)");

// ---- Predicted turbine noise series ------------------------------------

const series = [
  { name: "Drumnahough", values: drumnahough, color: "#0000ff", width: 3, dash: "22,9", r: 5.5 },
  { name: "Meentycat Wind Park", values: meentycatWindPark, color: "#008000", width: 2.6, dash: "20,9", r: 5.5 },
  { name: "Culliagh", values: culliagh, color: "#996633", width: 4, dash: "30,12", r: 5.5 },
  { name: "Cark + Meentycat Cark Ext", values: carkMeentycatExt, color: "#ff6600", width: 4, dash: "30,12", r: 5.5 },
  { name: "Meentycat Meenbog Ext", values: meentycatMeenbogExt, color: "#8064a2", width: 4, dash: "30,12", r: 5.5 },
  { name: "All (Cumulative total)", values: cumulativeTotal, color: "#ff0000", width: 3, dash: "24,9", r: 6.2 }
];

const seriesLine = d3.line().x(d => x(d.w)).y(d => y(d.v));

series.forEach(s => {
  const pts = speedSteps.map((w, i) => ({ w, v: s.values[i] })).filter(d => d.v != null);
  const g = svg.append("g");
  g.append("path").attr("d", seriesLine(pts))
    .attr("fill", "none").attr("stroke", s.color).attr("stroke-width", s.width)
    .attr("stroke-dasharray", s.dash).attr("clip-path", "url(#plotClip)");
  g.selectAll("circle").data(pts.filter(d => d.v >= 10 && d.v <= 70)).join("circle")
    .attr("cx", d => x(d.w)).attr("cy", d => y(d.v)).attr("r", s.r)
    .attr("fill", "#fff").attr("stroke", s.color).attr("stroke-width", 1.6);
});

// ---- Trendline ----------------------------------------------------------

const trendSamples = d3.range(trendSpeedRange[0], trendSpeedRange[1] + 1e-9, 0.05)
  .map(w => [w, trendCoefficients[0] * w * w + trendCoefficients[1] * w + trendCoefficients[2]]);
svg.append("path").attr("d", d3.line().x(d => x(d[0])).y(d => y(d[1]))(trendSamples))
  .attr("fill", "none").attr("stroke", "#000").attr("stroke-width", 1.3)
  .attr("clip-path", "url(#plotClip)");

const eq = svg.append("text").attr("x", 1062).attr("y", 88).attr("text-anchor", "end").attr("font-size", 14);
eq.append("tspan").text(`y = ${trendCoefficients[0].toExponential(4).replace("e-1", "E-01")}x`);
eq.append("tspan").attr("font-size", 9.5).attr("dy", -5).text("2");
eq.append("tspan").attr("dy", 5)
  .text(` + ${trendCoefficients[1].toExponential(4).replace("e-1", "E-01")}x + ${trendCoefficients[2].toExponential(4).replace("e+1", "E+01")}`);

// ---- Legend -------------------------------------------------------------

const legendEntries = [
  { label: "Baseline data", kind: "dot", color: "#7f7f7f" },
  { label: "Rainfall excluded data", kind: "dot", color: "#33ccff" },
  { label: "Other excluded data", kind: "dot", color: "#ff0000" },
  { label: "40 dB Day-time noise limit", kind: "line", color: "#000", width: 3.2 },
  ...series.map(s => ({ label: s.name, kind: "series", color: s.color, width: s.width, dash: s.dash })),
  { label: "Trendline", kind: "line", color: "#000", width: 1.3 }
];

const legend = svg.append("g");
legend.append("rect").attr("x", 87.5).attr("y", 67.5).attr("width", 230).attr("height", 229)
  .attr("fill", "#fff").attr("stroke", "#000").attr("stroke-width", 1.5);

legendEntries.forEach((e, i) => {
  const cy = 78.3 + i * 20.6;
  const row = legend.append("g");
  if (e.kind === "dot") {
    row.append("circle").attr("cx", 112.5).attr("cy", cy).attr("r", 2.3)
      .attr("fill", "none").attr("stroke", e.color).attr("stroke-width", 1.4);
  } else if (e.kind === "line") {
    row.append("line").attr("x1", 93).attr("x2", 133).attr("y1", cy).attr("y2", cy)
      .attr("stroke", e.color).attr("stroke-width", e.width);
  } else {
    row.append("line").attr("x1", 93).attr("x2", 133).attr("y1", cy).attr("y2", cy)
      .attr("stroke", e.color).attr("stroke-width", e.width).attr("stroke-dasharray", e.dash);
    row.append("circle").attr("cx", 112.5).attr("cy", cy).attr("r", 5)
      .attr("fill", "#fff").attr("stroke", e.color).attr("stroke-width", 1.6);
  }
  row.append("text").attr("x", 136).attr("y", cy).attr("dy", "0.35em")
    .attr("font-size", 15).text(e.label);
});
</script>
</body>
</html>
